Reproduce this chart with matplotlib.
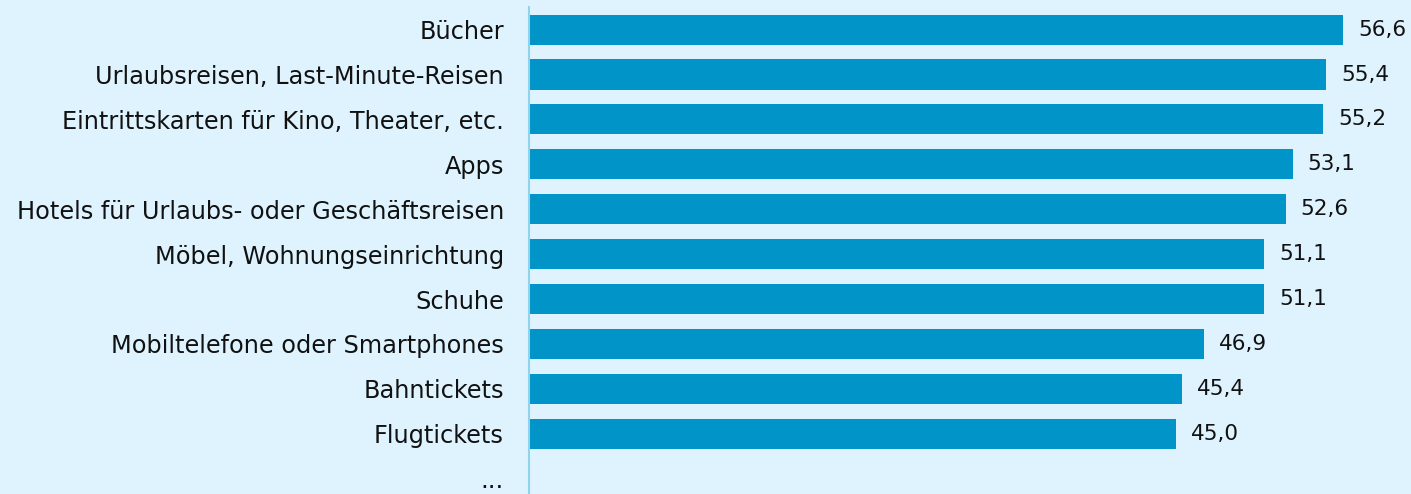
import matplotlib
matplotlib.use("Agg")
import matplotlib.pyplot as plt

# chart data
categories = ["Bücher", "Urlaubsreisen, Last-Minute-Reisen",
              "Eintrittskarten für Kino, Theater, etc.", "Apps",
              "Hotels für Urlaubs- oder Geschäftsreisen",
              "Möbel, Wohnungseinrichtung", "Schuhe",
              "Mobiltelefone oder Smartphones", "Bahntickets",
              "Flugtickets", "..."]
values = [56.6, 55.4, 55.2, 53.1, 52.6, 51.1, 51.1, 46.9, 45.4, 45.0, None]

BG = "#dff3fe"
BAR = "#0094c9"
AXIS = "#8fd3ec"
TEXT = "#111111"

fig = plt.figure(figsize=(14.11, 4.94), dpi=100, facecolor=BG)
ax = fig.add_axes([0.3749, -0.0145, 0.6116, 1.0])
ax.set_facecolor(BG)

ypos = list(range(len(categories)))
bar_vals = [v if v is not None else 0 for v in values]
ax.barh(ypos, bar_vals, height=0.67, color=BAR)

# value labels with german decimal comma
for y, v in zip(ypos, values):
    if v is None:
        continue
    ax.text(v + 1.05, y, f"{v:.1f}".replace(".", ","), va="center", ha="left",
            fontsize=15.5, color=TEXT)

ax.set_ylim(len(categories) - 0.5, -0.5)
ax.set_xlim(0, 60)
ax.set_yticks(ypos)
ax.set_yticklabels(categories, fontsize=17.3, color=TEXT)
ax.tick_params(axis="y", length=0, pad=18)
ax.set_xticks([])
for side in ["top", "right", "bottom"]:
    ax.spines[side].set_visible(False)
ax.spines["left"].set_color(AXIS)
ax.spines["left"].set_linewidth(1.5)

fig.savefig("out.png", dpi=100, facecolor=BG)
